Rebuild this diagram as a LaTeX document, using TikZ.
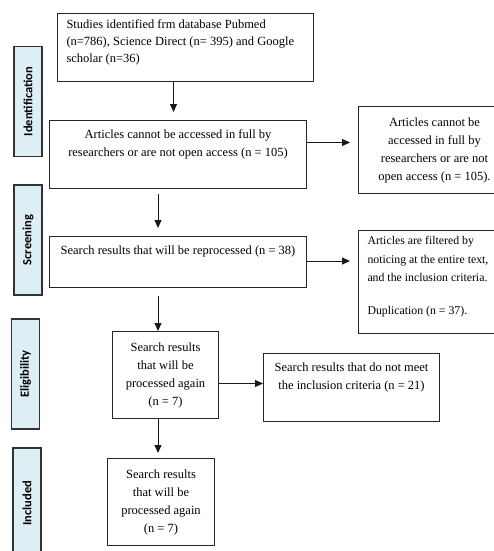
\documentclass[tikz,border=0pt]{standalone}
\usepackage{fontspec}
\setmainfont{Liberation Serif}
\newfontfamily\phasefont{Carlito}
\usepackage{xcolor}
\usetikzlibrary{arrows.meta}
\definecolor{phasefill}{RGB}{221,238,245}
\begin{document}
\begin{tikzpicture}[x=1pt, y=-1pt,
	box/.style={draw=black!85, line width=1pt, inner xsep=6pt, inner ysep=6pt, anchor=north west, font=\fontsize{12.5}{18}\selectfont},
	phase/.style={draw=black!80, line width=1.4pt, fill=phasefill, rotate=90, minimum width=110pt, minimum height=28pt, inner sep=0pt, font=\phasefont\bfseries\fontsize{12.5}{14}\selectfont},
	arr/.style={-{Triangle[length=8pt,width=7pt]}, line width=1pt, draw=black!90}]
	\useasboundingbox (0,0) rectangle (494,551);
					% side labels
					\node[phase] (ident) at (28,101.5) {Identification};
					\node[phase] (screen) at (28,240) {Screening};
					\node[phase] (elig) at (25.5,374) {Eligibility};
					\node[phase] (incl) at (27,503) {Included};
					% main column
					\node[box, inner xsep=9pt, font=\fontsize{12.5}{17}\selectfont] (studies) at (57,13) {\parbox[t][56pt][t]{238pt}{\raggedright Studies identified frm database Pubmed\\(n=786), Science Direct (n= 395) and Google\\scholar (n=36)}};
					\node[box, inner ysep=9pt] (access) at (49,120) {\parbox[t][50pt][t]{245pt}{\centering Articles cannot be accessed in full by\\researchers  or are not open access (n = 105)}};
					\node[box, inner ysep=9pt] (repro) at (49,236) {\parbox[t][33pt][t]{245pt}{\centering Search results that will be reprocessed (n = 38)}};
					\node[box] (again) at (112,331) {\parbox[c][75pt][c]{94pt}{\centering Search results\\that will be\\processed again\\(n = 7)}};
					\node[box] (incres) at (107,458) {\parbox[c][75pt][c]{95pt}{\centering Search results\\that will be\\processed again\\(n = 7)}};
					% excluded boxes
					\node[box] (noaccess) at (358,106) {\parbox[c][75pt][c]{140pt}{\centering Articles cannot be\\accessed in full by\\researchers  or are not\\open access (n = 105).}};
					\node[box, inner xsep=9pt, font=\fontsize{11.8}{18.5}\selectfont] (filter) at (358,230) {\parbox[t][91pt][t]{150pt}{\raggedright Articles are filtered by\\noticing at the entire text,\\and the inclusion criteria.\\[14pt]Duplication (n = 37).}};
					\node[box, inner ysep=9pt] (nomeet) at (263,353) {\parbox[t][50pt][t]{164pt}{\centering Search results that do not meet\\the inclusion criteria (n = 21)}};
					% arrows
					\coordinate (spine) at (158,0);
					\draw[arr, shorten >=8pt] ([xshift=-12pt]studies.south) -- ([xshift=-12pt]studies.south |- access.north);
					\draw[arr, shorten >=8pt] ([yshift=12pt]access.east) -- ([yshift=12pt]access.east -| noaccess.west);
					\draw[arr, shorten <=5pt, shorten >=8pt] (access.south -| spine) -- (repro.north -| spine);
					\draw[arr, shorten >=8pt] ([yshift=1pt]repro.east) -- ([yshift=1pt]repro.east -| filter.west);
					\draw[arr, shorten <=8pt] (repro.south -| spine) -- (again.north -| spine);
					\draw[arr] ([yshift=-8.5pt]again.east) -- ([yshift=-8.5pt]again.east -| nomeet.west);
					\draw[arr, shorten >=5pt] (again.south -| spine) -- (incres.north -| spine);
\end{tikzpicture}
\end{document}
